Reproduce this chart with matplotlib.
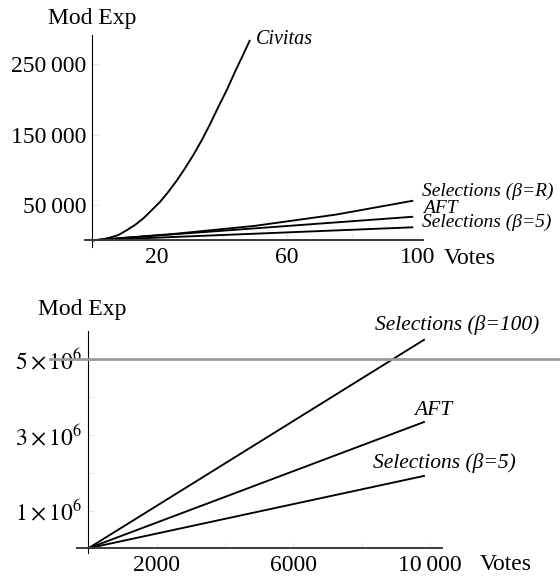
import matplotlib
matplotlib.use('Agg')
import matplotlib.pyplot as plt
import matplotlib.transforms as mtransforms

# ---------------- data: top panel (small number of votes) ----------------
votes_civitas = [0, 3, 5.5, 8.1, 10.5, 13.2, 15.8, 18.4, 21, 23.5, 26, 28.6, 31.2,
                 33.8, 36.3, 38.9, 41.5, 44.0, 46.3, 48.6]
modexp_civitas = [0, 1100, 3800, 7500, 13800, 21700, 31200, 43000, 55000, 69000, 84500,
                  102300, 121500, 142600, 165000, 190000, 214000, 239700, 262000, 284800]
votes_sel_r = [0, 25, 50, 75, 98.8]
modexp_sel_r = [0, 9000, 20500, 36500, 56300]
votes_aft_small = [0, 98.8]
modexp_aft_small = [0, 33500]
votes_sel5_small = [0, 98.8]
modexp_sel5_small = [0, 18500]
top_xticks = [20, 40, 60, 80, 100]
top_xticklabels = ['20', '', '60', '', '100']
top_yticks = [50000, 150000, 250000]
top_yticklabels = ['50\u2009000', '150\u2009000', '250\u2009000']

# ---------------- data: bottom panel (large number of votes) ----------------
votes_large = [0, 9850]
modexp_sel100 = [0, 5.53e6]
modexp_aft_large = [0, 3.35e6]
modexp_sel5_large = [0, 1.92e6]
bottom_xticks = [2000, 4000, 6000, 8000, 10000]
bottom_xticklabels = ['2000', '', '6000', '', '10\u2009000']
bottom_yticks = [1e6, 2e6, 3e6, 4e6, 5e6]
bottom_yticklabels = [r'$1\times10^{6}$', '', r'$3\times10^{6}$', '', r'$5\times10^{6}$']
threshold = 5e6

plt.rcParams['font.family'] = ['Liberation Serif', 'DejaVu Serif']
plt.rcParams['mathtext.fontset'] = 'stix'

W, H = 560, 578
fig = plt.figure(figsize=(W / 100, H / 100), dpi=100)


def fx(px):
    return px / W


def fy(py):
    return 1 - py / H


def style(ax):
    for s in ('top', 'right'):
        ax.spines[s].set_visible(False)
    ax.spines['left'].set_position(('data', 0))
    ax.spines['bottom'].set_position(('data', 0))
    ax.spines['left'].set_color('black')
    ax.spines['left'].set_linewidth(0.8)
    ax.spines['bottom'].set_color('#3a3a3a')
    ax.spines['bottom'].set_linewidth(1.4)
    ax.tick_params(direction='in', length=4, width=0.6, color='#e2e2e2',
                   labelsize=17, labelcolor='black')
    ax.tick_params(axis='x', pad=4.5)
    ax.tick_params(axis='y', pad=4)
    ax.patch.set_alpha(0)


line_kw = dict(color='black', lw=1.35, solid_capstyle='butt', solid_joinstyle='round')
lab_kw = dict(textcoords='offset points', fontstyle='italic', va='center',
              annotation_clip=False)

# ---------------- top panel ----------------
ax1 = fig.add_axes([fx(85), fy(246.7), (423 - 85) / W, (246.7 - 35) / H])
ax1.set_xlim(-2.15, 101.8)
ax1.set_ylim(-9100, 291800)
style(ax1)
ax1.plot(votes_civitas, modexp_civitas, **line_kw)
ax1.plot(votes_sel_r, modexp_sel_r, **line_kw)
ax1.plot(votes_aft_small, modexp_aft_small, **line_kw)
ax1.plot(votes_sel5_small, modexp_sel5_small, **line_kw)
ax1.set_xticks(top_xticks)
ax1.set_xticklabels(top_xticklabels)
ax1.set_yticks(top_yticks)
ax1.set_yticklabels(top_yticklabels)

ax1.annotate('Civitas', xy=(votes_civitas[-1], modexp_civitas[-1]), xytext=(4.3, 0),
             ha='left', fontsize=14.5, **lab_kw)
ax1.annotate('Selections (\u03b2=R)', xy=(votes_sel_r[-1], modexp_sel_r[-1]), xytext=(6.3, 7.0),
             ha='left', fontsize=14.0, **lab_kw)
ax1.annotate('AFT', xy=(votes_aft_small[-1], modexp_aft_small[-1]), xytext=(7.4, 5.8),
             ha='left', fontsize=14.0, **lab_kw)
ax1.annotate('Selections (\u03b2=5)', xy=(votes_sel5_small[-1], modexp_sel5_small[-1]), xytext=(6.3, 3.2),
             ha='left', fontsize=14.0, **lab_kw)

fig.text(fx(48.3), fy(24), 'Mod Exp', fontsize=17, va='baseline', ha='left')
fig.text(fx(443.3), fy(263.7), 'Votes', fontsize=17, va='baseline', ha='left')

# ---------------- bottom panel ----------------
ax2 = fig.add_axes([fx(77.3), fy(553.3), (441.7 - 77.3) / W, (553.3 - 330.7) / H])
ax2.set_xlim(-322, 10343)
ax2.set_ylim(-132000, 5.757e6)
style(ax2)
ax2.plot(votes_large, modexp_sel100, **line_kw)
ax2.plot(votes_large, modexp_aft_large, **line_kw)
ax2.plot(votes_large, modexp_sel5_large, **line_kw)
ax2.set_xticks(bottom_xticks)
ax2.set_xticklabels(bottom_xticklabels)
ax2.set_yticks(bottom_yticks)
ax2.set_yticklabels(bottom_yticklabels)

trans = mtransforms.blended_transform_factory(fig.transFigure, ax2.transData)
ax2.plot([fx(50), 1.0], [threshold, threshold], transform=trans, color='#9a9a9a',
         lw=2.0, clip_on=False, zorder=5)

ax2.annotate('Selections (\u03b2=100)', xy=(votes_large[-1], modexp_sel100[-1]), xytext=(23, 10.3),
             ha='center', fontsize=15.5, **lab_kw)
ax2.annotate('AFT', xy=(votes_large[-1], modexp_aft_large[-1]), xytext=(5.8, 8.4),
             ha='center', fontsize=15.5, **lab_kw)
ax2.annotate('Selections (\u03b2=5)', xy=(votes_large[-1], modexp_sel5_large[-1]), xytext=(14, 8.9),
             ha='center', fontsize=15.5, **lab_kw)

fig.text(fx(38.3), fy(315), 'Mod Exp', fontsize=17, va='baseline', ha='left')
fig.text(fx(480), fy(570), 'Votes', fontsize=17, va='baseline', ha='left')

fig.savefig('out.png', dpi=100, facecolor='white')
